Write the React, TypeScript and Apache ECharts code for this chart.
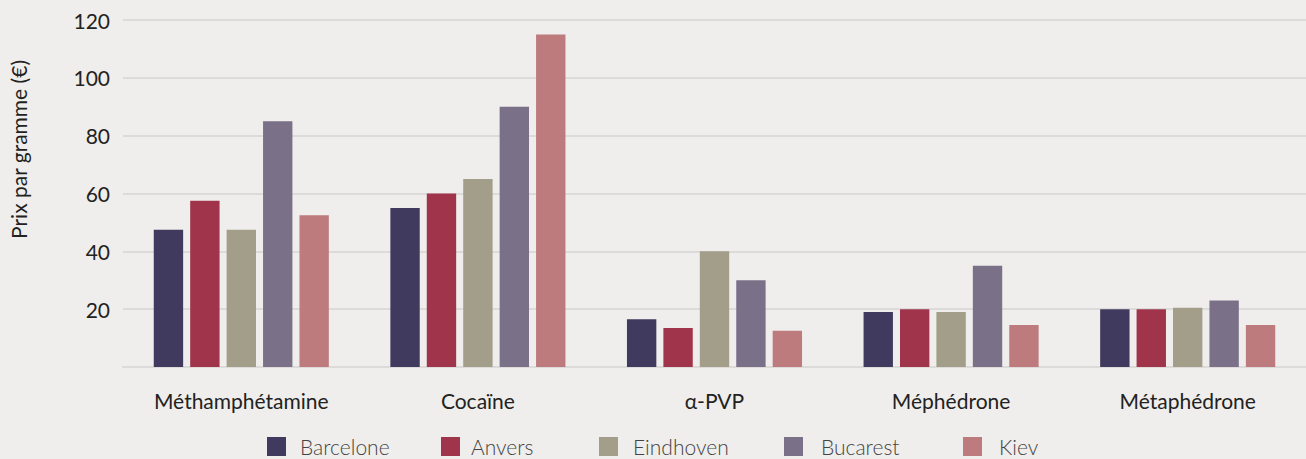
import React, { useEffect, useRef } from "react";
import * as echarts from "echarts";

const categories = ["Méthamphétamine", "Cocaïne", "α-PVP", "Méphédrone", "Métaphédrone"];
const seriesNames = ["Barcelone", "Anvers", "Eindhoven", "Bucarest", "Kiev"];
const barcelone = [47.5, 55, 16.5, 19, 20];
const anvers = [57.5, 60, 13.5, 20, 20];
const eindhoven = [47.5, 65, 40, 19, 20.5];
const bucarest = [85, 90, 30, 35, 23];
const kiev = [52.5, 115, 12.5, 14.5, 14.5];
const colors = ["#403a5e", "#9f344b", "#a39e89", "#7a7189", "#be7b7e"];
const legendLefts = [267, 441, 599, 784, 963];
const legendTextGaps = [9, 6, 10, 13, 12];

export default function App() {
  const ref = useRef<HTMLDivElement>(null);
  useEffect(() => {
    if (!ref.current) return;
    const chart = echarts.init(ref.current, null, { renderer: "svg" });
    const values = [barcelone, anvers, eindhoven, bucarest, kiev];
    const font = "Lato, 'Noto Sans', sans-serif";
    chart.setOption({
      animation: false,
      backgroundColor: "#efeeec",
      textStyle: { fontFamily: font },
      grid: { left: 121, right: 0, top: 20, bottom: 92 },
      legend: seriesNames.map((n, i) => ({
        data: [n],
        left: legendLefts[i],
        top: 436,
        padding: 0,
        itemWidth: 19,
        itemHeight: 19,
        icon: "rect",
        selectedMode: false,
        textStyle: {
          fontFamily: font,
          fontSize: 21,
          fontWeight: 300,
          color: "#444",
          padding: [0, 0, 0, legendTextGaps[i]],
        },
      })),
      xAxis: {
        type: "category",
        data: categories,
        axisTick: { show: false },
        axisLine: { lineStyle: { color: "#dcdbd9", width: 2 } },
        axisLabel: { fontFamily: font, fontSize: 21, color: "#222", margin: 23 },
      },
      yAxis: {
        type: "value",
        min: 0,
        max: 120,
        interval: 20,
        name: "Prix par gramme (€)",
        nameLocation: "middle",
        nameRotate: 90,
        nameGap: 94,
        nameTextStyle: { fontFamily: font, fontSize: 21, color: "#222", padding: [0, 0, 0, 88] },
        axisLine: { show: false },
        axisTick: { show: false },
        splitLine: { lineStyle: { color: "#dcdbd9", width: 2 } },
        axisLabel: {
          fontFamily: font,
          fontSize: 21,
          color: "#222",
          margin: 13,
          formatter: (v: number) => (v === 0 ? "" : String(v)),
        },
      },
      series: seriesNames.map((n, i) => ({
        name: n,
        type: "bar",
        data: values[i],
        itemStyle: { color: colors[i] },
        barGap: "24%",
        barCategoryGap: "26%",
      })),
    });
    return () => chart.dispose();
  }, []);
  return <div ref={ref} style={{ width: 1306, height: 459, position: "fixed", left: 0, top: 0 }} />;
}
